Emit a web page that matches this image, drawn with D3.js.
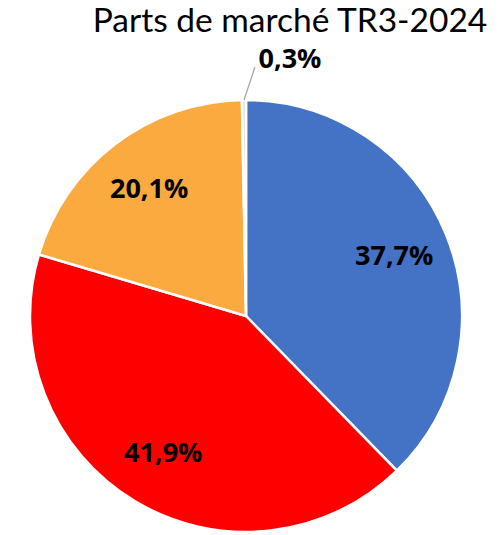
<!DOCTYPE html>
<html>
<head>
<meta charset="utf-8">
<script src="https://cdn.jsdelivr.net/npm/d3@7"></script>
<style>
  html, body { margin: 0; padding: 0; background: #fff; }
  svg { display: block; }
</style>
</head>
<body>
<svg id="chart" width="499" height="535"></svg>
<script>
'use strict';

const TITLE = "Parts de marché TR3-2024";
const categories = ["A", "B", "C", "D"];
const values = [37.7, 41.9, 20.1, 0.3];
const labels = ["37,7%", "41,9%", "20,1%", "0,3%"];
const colors = ["#4472c4", "#ff0000", "#fbaa3f", "#dcdcdc"];

const svg = d3.select("#chart");
const W = 499, H = 535;
const CX = 246, CY = 316, R = 216;

svg.append("text")
   .attr("x", 290)
   .attr("y", 32)
   .attr("text-anchor", "middle")
   .attr("font-family", "Lato, 'Open Sans', sans-serif")
   .attr("font-size", 33.5)
   .attr("fill", "#000")
   .text(TITLE);

const pie = d3.pie().sort(null).value(d => d);
const arcs = pie(values);
const arc = d3.arc().innerRadius(0).outerRadius(R);
const labelArc = d3.arc().innerRadius(160).outerRadius(160);

const g = svg.append("g").attr("transform", "translate(" + CX + "," + CY + ")");

g.selectAll("path.slice")
 .data(arcs)
 .enter().append("path")
 .attr("class", "slice")
 .attr("d", arc)
 .attr("fill", (d, i) => colors[i])
 .attr("stroke", "#fff")
 .attr("stroke-width", 2.5)
 .attr("stroke-linejoin", "round");

// inside labels for big slices, outside label with leader for tiny one
arcs.forEach((d, i) => {
  const font = "'Open Sans', Lato, sans-serif";
  if (values[i] >= 5) {
    const [x, y] = labelArc.centroid(d);
    g.append("text")
     .attr("x", x)
     .attr("y", y)
     .attr("dy", "0.35em")
     .attr("text-anchor", "middle")
     .attr("font-family", font)
     .attr("font-weight", "bold")
     .attr("font-size", 27)
     .attr("fill", "#000")
     .text(labels[i]);
  } else {
    const mid = (d.startAngle + d.endAngle) / 2;
    const p0 = [Math.sin(mid) * R, -Math.cos(mid) * R];
    const p1 = [p0[0] + 11, p0[1] - 33];
    g.append("line")
     .attr("x1", p0[0]).attr("y1", p0[1])
     .attr("x2", p1[0]).attr("y2", p1[1])
     .attr("stroke", "#a6a6a6")
     .attr("stroke-width", 1.2);
    g.append("text")
     .attr("x", p1[0] + 35)
     .attr("y", p1[1] + 1)
     .attr("text-anchor", "middle")
     .attr("font-family", font)
     .attr("font-weight", "bold")
     .attr("font-size", 27)
     .attr("fill", "#000")
     .text(labels[i]);
  }
});
</script>
</body>
</html>
